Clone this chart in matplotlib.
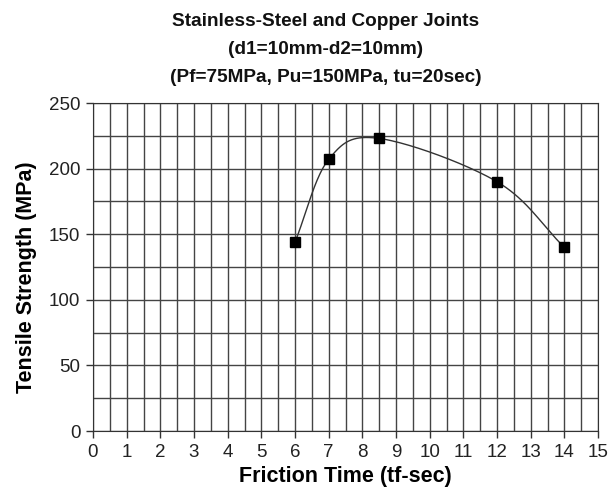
import numpy as np
import matplotlib
matplotlib.use('Agg')
import matplotlib.pyplot as plt

friction_time = [6, 7, 8.5, 12, 14]
tensile_strength = [144, 207, 223, 190, 140]
x_ticks = list(range(0, 16))
y_ticks = [0, 50, 100, 150, 200, 250]

plt.rcParams['font.family'] = ['Liberation Sans', 'DejaVu Sans']


def catmull_rom(x, y, n=40):
    # smooth line through the measured points
    x = np.asarray(x, float)
    y = np.asarray(y, float)
    px = np.concatenate([[2 * x[0] - x[1]], x, [2 * x[-1] - x[-2]]])
    py = np.concatenate([[2 * y[0] - y[1]], y, [2 * y[-1] - y[-2]]])
    xs, ys = [], []
    t = np.linspace(0, 1, n)
    for i in range(1, len(px) - 2):
        for p, out in ((px, xs), (py, ys)):
            p0, p1, p2, p3 = p[i - 1], p[i], p[i + 1], p[i + 2]
            out.extend(0.5 * (2 * p1 + (-p0 + p2) * t
                              + (2 * p0 - 5 * p1 + 4 * p2 - p3) * t ** 2
                              + (-p0 + 3 * p1 - 3 * p2 + p3) * t ** 3))
    return np.array(xs), np.array(ys)


fig = plt.figure(figsize=(6.16, 4.98), dpi=100)
ax = fig.add_axes([93 / 616, 67 / 498, 505 / 616, 328 / 498])

sx, sy = catmull_rom(friction_time, tensile_strength)
ax.plot(sx, sy, color='#333333', lw=1.0, zorder=3)
ax.plot(friction_time, tensile_strength, 's', color='black', ms=7, zorder=4)

ax.set_xlim(0, 15)
ax.set_ylim(0, 250)
ax.set_xticks(x_ticks)
ax.set_yticks(y_ticks)
ax.set_xticks(np.arange(0, 15.01, 0.5), minor=True)
ax.set_yticks(np.arange(0, 250.1, 25), minor=True)
ax.grid(which='both', color='#444444', lw=1.0)
ax.set_axisbelow(True)
ax.tick_params(which='minor', length=0)
ax.tick_params(which='major', length=5, width=1, labelsize=13.5, color='#333333',
               labelcolor='#222222', pad=4)
for s in ax.spines.values():
    s.set_color('#333333')

ax.set_xlabel('Friction Time (tf-sec)', fontsize=15.5, fontweight='bold', labelpad=4)
ax.set_ylabel('Tensile Strength (MPa)', fontsize=15.5, fontweight='bold')
ax.yaxis.set_label_coords(-0.11, 0.47)

titles = ['Stainless-Steel and Copper Joints', '(d1=10mm-d2=10mm)',
          '(Pf=75MPa, Pu=150MPa, tu=20sec)']
for i, t in enumerate(titles):
    fig.text(326 / 616, 1 - (21 + 28 * i) / 498, t, ha='center', va='center',
             fontsize=13.7, fontweight='bold', color='#111111')

fig.savefig('out.png', dpi=100)
